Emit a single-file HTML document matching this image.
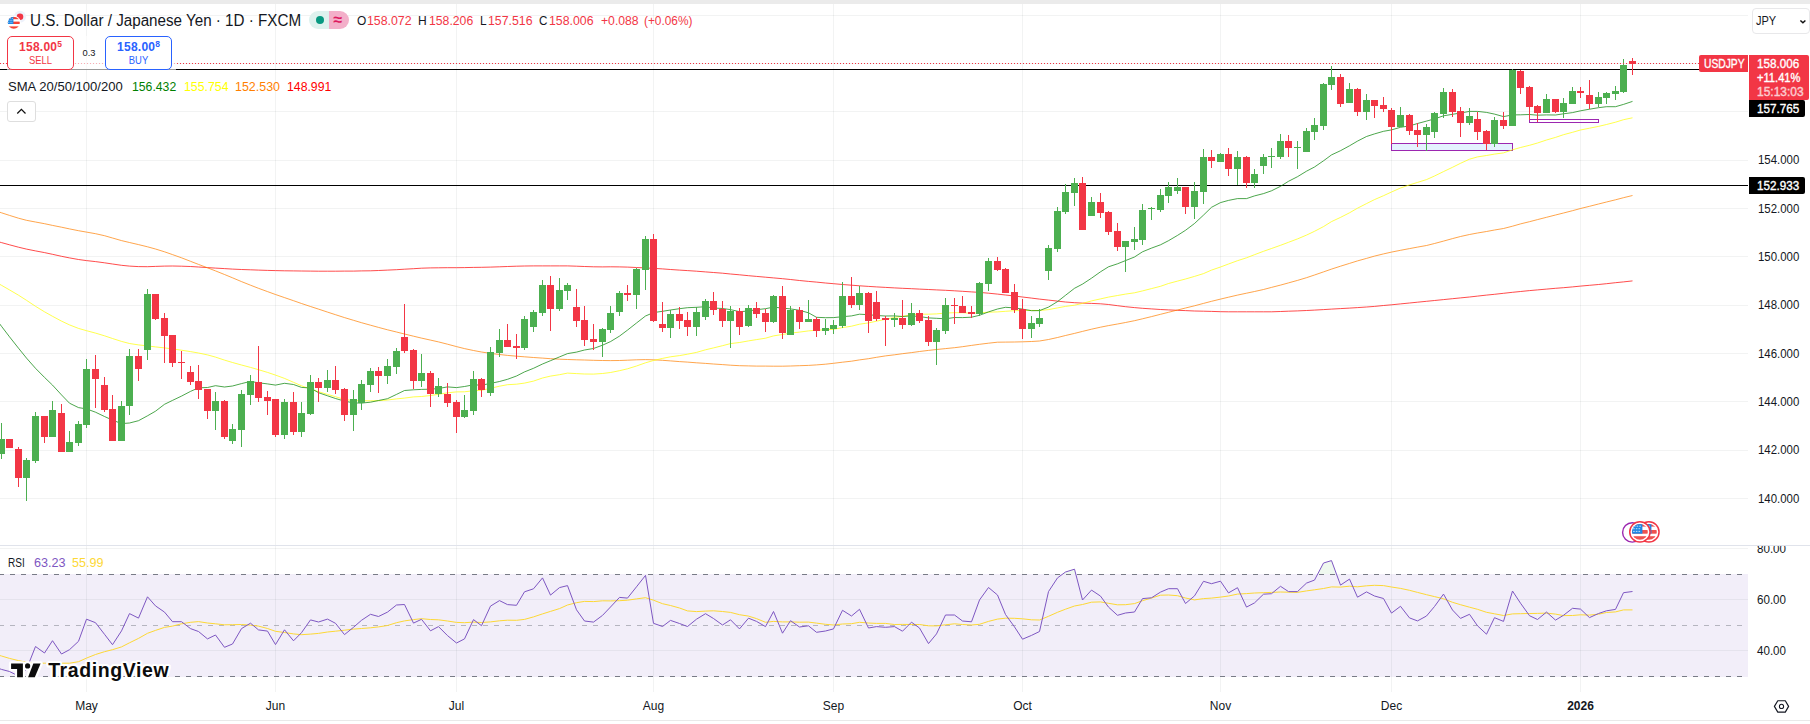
<!DOCTYPE html>
<html lang="en"><head><meta charset="utf-8"><title>USDJPY chart</title>
<style>
html,body{margin:0;padding:0;background:#fff;}
body{width:1810px;height:724px;position:relative;overflow:hidden;font-family:"Liberation Sans", sans-serif;}
#chart{position:absolute;left:0;top:0;}
.t{position:absolute;white-space:nowrap;line-height:1;transform:translateY(-50%);}
.abs{position:absolute;box-sizing:border-box;}
#topbar{left:0;top:0;width:1810px;height:4px;background:#ebebeb;}
#botline{left:0;top:720px;width:1810px;height:1px;background:#e9e9e9;}
#sep{left:0;top:545px;width:1810px;height:1px;background:#e0e3eb;}
#clip80{left:1748px;top:546px;width:62px;height:14px;overflow:hidden;}
.btn{border-radius:5px;background:#fff;text-align:center;}
#sell{left:7px;top:36px;width:67px;height:34px;border:1px solid #f23645;color:#f23645;}
#buy{left:105px;top:36px;width:67px;height:34px;border:1px solid #2962ff;color:#2962ff;}
#bsbg{left:7px;top:36px;width:169px;height:34px;background:rgba(255,255,255,.6);}
.btn .p{position:absolute;left:0;width:100%;top:2.6px;font-size:12px;font-weight:700;line-height:14px;letter-spacing:0.25px;}
.btn .p sup{font-size:8.5px;vertical-align:top;position:relative;top:-0.5px;line-height:10px;letter-spacing:0;}
.btn .n{position:absolute;left:0;width:100%;top:17.2px;font-size:10.5px;line-height:12px;transform:scaleX(0.9);}
#collapse{left:7px;top:101px;width:29px;height:21px;border:1px solid #dedede;border-radius:3px;background:#fff;}
#jpy{left:1752px;top:8px;width:58px;height:26px;border:1px solid #e8e8ea;border-radius:4px;background:#fff;}
.lab{color:#fff;font-size:12px;line-height:1;}
</style></head><body>
<svg id="chart" width="1810" height="724" viewBox="0 0 1810 724"><rect x="0" y="574" width="1748" height="103" fill="#7e57c2" fill-opacity="0.1"/><rect x="86" y="4" width="1" height="541" fill="#2a2e39" fill-opacity="0.06"/><rect x="86" y="546" width="1" height="146" fill="#2a2e39" fill-opacity="0.06"/><rect x="275" y="4" width="1" height="541" fill="#2a2e39" fill-opacity="0.06"/><rect x="275" y="546" width="1" height="146" fill="#2a2e39" fill-opacity="0.06"/><rect x="456" y="4" width="1" height="541" fill="#2a2e39" fill-opacity="0.06"/><rect x="456" y="546" width="1" height="146" fill="#2a2e39" fill-opacity="0.06"/><rect x="653" y="4" width="1" height="541" fill="#2a2e39" fill-opacity="0.06"/><rect x="653" y="546" width="1" height="146" fill="#2a2e39" fill-opacity="0.06"/><rect x="833" y="4" width="1" height="541" fill="#2a2e39" fill-opacity="0.06"/><rect x="833" y="546" width="1" height="146" fill="#2a2e39" fill-opacity="0.06"/><rect x="1022" y="4" width="1" height="541" fill="#2a2e39" fill-opacity="0.06"/><rect x="1022" y="546" width="1" height="146" fill="#2a2e39" fill-opacity="0.06"/><rect x="1220" y="4" width="1" height="541" fill="#2a2e39" fill-opacity="0.06"/><rect x="1220" y="546" width="1" height="146" fill="#2a2e39" fill-opacity="0.06"/><rect x="1391" y="4" width="1" height="541" fill="#2a2e39" fill-opacity="0.06"/><rect x="1391" y="546" width="1" height="146" fill="#2a2e39" fill-opacity="0.06"/><rect x="1580" y="4" width="1" height="541" fill="#2a2e39" fill-opacity="0.06"/><rect x="1580" y="546" width="1" height="146" fill="#2a2e39" fill-opacity="0.06"/><rect x="0" y="498" width="1748" height="1" fill="#2a2e39" fill-opacity="0.06"/><rect x="0" y="450" width="1748" height="1" fill="#2a2e39" fill-opacity="0.06"/><rect x="0" y="401" width="1748" height="1" fill="#2a2e39" fill-opacity="0.06"/><rect x="0" y="353" width="1748" height="1" fill="#2a2e39" fill-opacity="0.06"/><rect x="0" y="305" width="1748" height="1" fill="#2a2e39" fill-opacity="0.06"/><rect x="0" y="256" width="1748" height="1" fill="#2a2e39" fill-opacity="0.06"/><rect x="0" y="208" width="1748" height="1" fill="#2a2e39" fill-opacity="0.06"/><rect x="0" y="160" width="1748" height="1" fill="#2a2e39" fill-opacity="0.06"/><rect x="0" y="111" width="1748" height="1" fill="#2a2e39" fill-opacity="0.06"/><rect x="0" y="63" width="1748" height="1" fill="#2a2e39" fill-opacity="0.06"/><rect x="0" y="15" width="1748" height="1" fill="#2a2e39" fill-opacity="0.06"/><rect x="0" y="548" width="1748" height="1" fill="#2a2e39" fill-opacity="0.06"/><rect x="0" y="599" width="1748" height="1" fill="#2a2e39" fill-opacity="0.06"/><rect x="0" y="650" width="1748" height="1" fill="#2a2e39" fill-opacity="0.06"/><path d="M0 574.5H1748" stroke="#787b86" stroke-width="1" stroke-dasharray="5 6" stroke-dashoffset="1" fill="none"/><path d="M0 676.5H1748" stroke="#787b86" stroke-width="1" stroke-dasharray="5 6" stroke-dashoffset="1" fill="none"/><path d="M0 625.5H1748" stroke="#787b86" stroke-opacity="0.5" stroke-width="1" stroke-dasharray="5 6" stroke-dashoffset="1" fill="none"/><clipPath id="obc"><rect x="0" y="546" width="1748" height="28"/></clipPath><path d="M-4.0 667.4 L1.5 669.4 L9.5 671.5 L18.5 676.0 L26.5 669.3 L35.5 646.5 L44.5 653.0 L52.5 640.7 L61.5 654.0 L69.5 649.7 L78.5 641.3 L86.5 619.2 L95.5 622.7 L104.5 634.3 L112.5 644.7 L121.5 630.9 L129.5 613.6 L138.5 618.1 L147.5 596.8 L155.5 605.9 L164.5 612.1 L172.5 621.7 L181.5 621.7 L190.5 628.6 L198.5 631.5 L207.5 638.9 L215.5 635.0 L224.5 647.3 L232.5 644.0 L241.5 628.6 L250.5 623.2 L258.5 629.9 L267.5 631.1 L275.5 644.6 L284.5 629.8 L293.5 640.8 L301.5 632.7 L310.5 619.9 L318.5 622.0 L327.5 619.1 L335.5 623.3 L344.5 634.6 L353.5 627.3 L361.5 620.3 L370.5 614.3 L378.5 616.5 L387.5 612.1 L396.5 605.0 L404.5 604.5 L413.5 623.1 L421.5 619.3 L430.5 630.8 L438.5 626.6 L447.5 635.6 L456.5 643.0 L464.5 638.9 L473.5 619.6 L481.5 625.7 L490.5 606.1 L499.5 600.6 L507.5 604.6 L516.5 605.3 L524.5 591.8 L533.5 588.8 L542.5 577.9 L550.5 595.1 L559.5 587.6 L567.5 585.6 L576.5 609.8 L584.5 621.0 L593.5 622.1 L602.5 615.4 L610.5 607.0 L619.5 597.4 L627.5 598.1 L636.5 586.8 L645.5 575.4 L653.5 623.3 L662.5 626.5 L670.5 620.4 L679.5 623.5 L687.5 626.5 L696.5 619.2 L705.5 613.7 L713.5 618.5 L722.5 625.0 L730.5 619.8 L739.5 628.9 L748.5 618.2 L756.5 621.4 L765.5 626.6 L773.5 611.5 L782.5 633.2 L790.5 620.7 L799.5 627.0 L808.5 625.8 L816.5 632.3 L825.5 631.0 L833.5 628.9 L842.5 610.3 L851.5 616.0 L859.5 609.3 L868.5 628.0 L876.5 626.6 L885.5 627.3 L894.5 626.6 L902.5 631.2 L911.5 622.2 L919.5 628.0 L928.5 643.6 L936.5 633.9 L945.5 615.0 L954.5 615.0 L962.5 621.0 L971.5 621.8 L979.5 600.0 L988.5 587.5 L997.5 595.0 L1005.5 614.5 L1014.5 626.9 L1022.5 639.2 L1031.5 635.4 L1039.5 631.5 L1048.5 591.6 L1057.5 577.9 L1065.5 572.0 L1074.5 569.2 L1082.5 600.0 L1091.5 590.1 L1100.5 596.1 L1108.5 607.1 L1117.5 615.3 L1125.5 613.0 L1134.5 612.0 L1142.5 598.6 L1151.5 597.8 L1160.5 592.1 L1168.5 588.7 L1177.5 588.7 L1185.5 603.5 L1194.5 595.9 L1203.5 581.3 L1211.5 583.7 L1220.5 581.2 L1228.5 592.9 L1237.5 587.7 L1246.5 607.1 L1254.5 602.9 L1263.5 594.2 L1271.5 593.7 L1280.5 586.3 L1288.5 591.6 L1297.5 591.6 L1306.5 583.1 L1314.5 580.1 L1323.5 563.0 L1331.5 560.6 L1340.5 585.1 L1349.5 579.1 L1357.5 597.2 L1366.5 591.9 L1374.5 596.0 L1383.5 598.5 L1391.5 613.1 L1400.5 606.3 L1409.5 617.9 L1417.5 620.9 L1426.5 616.0 L1434.5 606.5 L1443.5 594.1 L1452.5 610.0 L1460.5 618.4 L1469.5 614.3 L1477.5 625.8 L1486.5 634.2 L1494.5 617.7 L1503.5 621.4 L1512.5 591.0 L1520.5 603.2 L1529.5 615.7 L1537.5 619.5 L1546.5 612.1 L1555.5 620.1 L1563.5 615.3 L1572.5 608.3 L1580.5 609.1 L1589.5 617.6 L1598.5 613.5 L1606.5 610.8 L1615.5 609.4 L1623.5 592.7 L1632.5 591.5 L1632.5 574 L-4 574Z" fill="#4caf50" fill-opacity="0.09" clip-path="url(#obc)"/><path d="M-4.0 654.5 L1.5 656.0 L9.5 658.4 L18.5 660.6 L26.5 662.3 L35.5 663.2 L44.5 663.2 L52.5 663.2 L61.5 663.2 L69.5 663.2 L78.5 661.7 L86.5 658.1 L95.5 654.5 L104.5 651.7 L112.5 649.7 L121.5 646.9 L129.5 642.8 L138.5 638.4 L147.5 633.3 L155.5 630.4 L164.5 627.4 L172.5 626.1 L181.5 623.8 L190.5 622.3 L198.5 621.6 L207.5 623.0 L215.5 623.8 L224.5 624.8 L232.5 624.7 L241.5 624.5 L250.5 625.2 L258.5 626.1 L267.5 628.5 L275.5 631.3 L284.5 632.5 L293.5 633.9 L301.5 634.7 L310.5 634.1 L318.5 633.4 L327.5 632.0 L335.5 631.2 L344.5 630.2 L353.5 629.1 L361.5 628.5 L370.5 627.8 L378.5 626.9 L387.5 625.5 L396.5 622.7 L404.5 620.9 L413.5 619.6 L421.5 618.7 L430.5 619.5 L438.5 619.8 L447.5 621.0 L456.5 622.4 L464.5 622.7 L473.5 622.1 L481.5 622.5 L490.5 621.9 L499.5 620.8 L507.5 620.2 L516.5 620.3 L524.5 619.4 L533.5 616.9 L542.5 613.9 L550.5 611.4 L559.5 608.6 L567.5 605.0 L576.5 602.7 L584.5 601.4 L593.5 601.6 L602.5 600.8 L610.5 600.9 L619.5 600.7 L627.5 600.2 L636.5 598.9 L645.5 597.7 L653.5 600.2 L662.5 603.7 L670.5 605.5 L679.5 608.0 L687.5 610.9 L696.5 611.6 L705.5 611.1 L713.5 610.8 L722.5 611.5 L730.5 612.4 L739.5 614.7 L748.5 616.1 L756.5 618.6 L765.5 622.3 L773.5 621.4 L782.5 621.9 L790.5 621.9 L799.5 622.2 L808.5 622.1 L816.5 623.1 L825.5 624.3 L833.5 625.0 L842.5 624.0 L851.5 623.7 L859.5 622.3 L868.5 623.0 L876.5 623.4 L885.5 623.4 L894.5 624.5 L902.5 624.4 L911.5 624.5 L919.5 624.5 L928.5 625.8 L936.5 625.9 L945.5 624.8 L954.5 623.8 L962.5 624.5 L971.5 625.0 L979.5 624.3 L988.5 621.4 L997.5 619.1 L1005.5 618.2 L1014.5 618.3 L1022.5 618.8 L1031.5 619.8 L1039.5 620.0 L1048.5 616.3 L1057.5 612.3 L1065.5 609.2 L1074.5 606.0 L1082.5 604.5 L1091.5 602.2 L1100.5 601.9 L1108.5 603.3 L1117.5 604.8 L1125.5 604.7 L1134.5 603.6 L1142.5 600.7 L1151.5 598.0 L1160.5 595.2 L1168.5 595.0 L1177.5 595.7 L1185.5 598.0 L1194.5 599.9 L1203.5 598.6 L1211.5 598.1 L1220.5 597.1 L1228.5 596.0 L1237.5 594.1 L1246.5 593.6 L1254.5 593.0 L1263.5 592.7 L1271.5 592.4 L1280.5 592.0 L1288.5 592.2 L1297.5 592.4 L1306.5 590.9 L1314.5 589.8 L1323.5 588.5 L1331.5 586.9 L1340.5 587.1 L1349.5 586.2 L1357.5 586.8 L1366.5 585.8 L1374.5 585.3 L1383.5 585.6 L1391.5 587.0 L1400.5 588.4 L1409.5 590.3 L1417.5 592.4 L1426.5 594.7 L1434.5 596.6 L1443.5 598.8 L1452.5 602.3 L1460.5 604.7 L1469.5 607.2 L1477.5 609.3 L1486.5 612.3 L1494.5 613.8 L1503.5 615.5 L1512.5 613.9 L1520.5 613.7 L1529.5 613.5 L1537.5 613.4 L1546.5 613.1 L1555.5 614.1 L1563.5 615.6 L1572.5 615.5 L1580.5 614.8 L1589.5 615.1 L1598.5 614.2 L1606.5 612.5 L1615.5 611.9 L1623.5 609.9 L1632.5 609.9" stroke="#fdd835" stroke-width="1" fill="none" stroke-linejoin="round"/><path d="M-4.0 667.4 L1.5 669.4 L9.5 671.5 L18.5 676.0 L26.5 669.3 L35.5 646.5 L44.5 653.0 L52.5 640.7 L61.5 654.0 L69.5 649.7 L78.5 641.3 L86.5 619.2 L95.5 622.7 L104.5 634.3 L112.5 644.7 L121.5 630.9 L129.5 613.6 L138.5 618.1 L147.5 596.8 L155.5 605.9 L164.5 612.1 L172.5 621.7 L181.5 621.7 L190.5 628.6 L198.5 631.5 L207.5 638.9 L215.5 635.0 L224.5 647.3 L232.5 644.0 L241.5 628.6 L250.5 623.2 L258.5 629.9 L267.5 631.1 L275.5 644.6 L284.5 629.8 L293.5 640.8 L301.5 632.7 L310.5 619.9 L318.5 622.0 L327.5 619.1 L335.5 623.3 L344.5 634.6 L353.5 627.3 L361.5 620.3 L370.5 614.3 L378.5 616.5 L387.5 612.1 L396.5 605.0 L404.5 604.5 L413.5 623.1 L421.5 619.3 L430.5 630.8 L438.5 626.6 L447.5 635.6 L456.5 643.0 L464.5 638.9 L473.5 619.6 L481.5 625.7 L490.5 606.1 L499.5 600.6 L507.5 604.6 L516.5 605.3 L524.5 591.8 L533.5 588.8 L542.5 577.9 L550.5 595.1 L559.5 587.6 L567.5 585.6 L576.5 609.8 L584.5 621.0 L593.5 622.1 L602.5 615.4 L610.5 607.0 L619.5 597.4 L627.5 598.1 L636.5 586.8 L645.5 575.4 L653.5 623.3 L662.5 626.5 L670.5 620.4 L679.5 623.5 L687.5 626.5 L696.5 619.2 L705.5 613.7 L713.5 618.5 L722.5 625.0 L730.5 619.8 L739.5 628.9 L748.5 618.2 L756.5 621.4 L765.5 626.6 L773.5 611.5 L782.5 633.2 L790.5 620.7 L799.5 627.0 L808.5 625.8 L816.5 632.3 L825.5 631.0 L833.5 628.9 L842.5 610.3 L851.5 616.0 L859.5 609.3 L868.5 628.0 L876.5 626.6 L885.5 627.3 L894.5 626.6 L902.5 631.2 L911.5 622.2 L919.5 628.0 L928.5 643.6 L936.5 633.9 L945.5 615.0 L954.5 615.0 L962.5 621.0 L971.5 621.8 L979.5 600.0 L988.5 587.5 L997.5 595.0 L1005.5 614.5 L1014.5 626.9 L1022.5 639.2 L1031.5 635.4 L1039.5 631.5 L1048.5 591.6 L1057.5 577.9 L1065.5 572.0 L1074.5 569.2 L1082.5 600.0 L1091.5 590.1 L1100.5 596.1 L1108.5 607.1 L1117.5 615.3 L1125.5 613.0 L1134.5 612.0 L1142.5 598.6 L1151.5 597.8 L1160.5 592.1 L1168.5 588.7 L1177.5 588.7 L1185.5 603.5 L1194.5 595.9 L1203.5 581.3 L1211.5 583.7 L1220.5 581.2 L1228.5 592.9 L1237.5 587.7 L1246.5 607.1 L1254.5 602.9 L1263.5 594.2 L1271.5 593.7 L1280.5 586.3 L1288.5 591.6 L1297.5 591.6 L1306.5 583.1 L1314.5 580.1 L1323.5 563.0 L1331.5 560.6 L1340.5 585.1 L1349.5 579.1 L1357.5 597.2 L1366.5 591.9 L1374.5 596.0 L1383.5 598.5 L1391.5 613.1 L1400.5 606.3 L1409.5 617.9 L1417.5 620.9 L1426.5 616.0 L1434.5 606.5 L1443.5 594.1 L1452.5 610.0 L1460.5 618.4 L1469.5 614.3 L1477.5 625.8 L1486.5 634.2 L1494.5 617.7 L1503.5 621.4 L1512.5 591.0 L1520.5 603.2 L1529.5 615.7 L1537.5 619.5 L1546.5 612.1 L1555.5 620.1 L1563.5 615.3 L1572.5 608.3 L1580.5 609.1 L1589.5 617.6 L1598.5 613.5 L1606.5 610.8 L1615.5 609.4 L1623.5 592.7 L1632.5 591.5" stroke="#7e57c2" stroke-width="1" fill="none" stroke-linejoin="round"/><rect x="1391.5" y="143.5" width="121" height="7" fill="#2196f3" fill-opacity="0.12" stroke="#9c27b0" stroke-width="1"/><rect x="1529.5" y="119.5" width="69" height="3" fill="none" stroke="#9c27b0" stroke-width="1"/><rect x="0" y="69" width="1748" height="1" fill="#000"/><rect x="0" y="185" width="1748" height="1" fill="#000"/><path d="M-4.0 241.1 L1.5 242.6 L9.5 244.8 L18.5 247.2 L26.5 249.1 L35.5 250.9 L44.5 252.6 L52.5 254.3 L61.5 256.3 L69.5 257.9 L78.5 259.5 L86.5 260.6 L95.5 261.6 L104.5 262.8 L112.5 264.0 L121.5 265.3 L129.5 266.1 L138.5 266.6 L147.5 266.7 L155.5 266.4 L164.5 266.1 L172.5 266.0 L181.5 266.2 L190.5 266.5 L198.5 267.0 L207.5 267.6 L215.5 268.1 L224.5 268.6 L232.5 269.1 L241.5 269.5 L250.5 269.8 L258.5 270.1 L267.5 270.4 L275.5 270.6 L284.5 270.8 L293.5 270.9 L301.5 271.0 L310.5 271.1 L318.5 271.2 L327.5 271.2 L335.5 271.2 L344.5 271.1 L353.5 271.1 L361.5 270.9 L370.5 270.8 L378.5 270.5 L387.5 270.1 L396.5 269.7 L404.5 269.2 L413.5 268.7 L421.5 268.2 L430.5 267.9 L438.5 267.8 L447.5 267.7 L456.5 267.7 L464.5 267.6 L473.5 267.4 L481.5 267.3 L490.5 267.1 L499.5 266.8 L507.5 266.5 L516.5 266.2 L524.5 266.0 L533.5 265.9 L542.5 265.9 L550.5 265.9 L559.5 265.9 L567.5 265.9 L576.5 266.2 L584.5 266.5 L593.5 266.8 L602.5 266.9 L610.5 266.8 L619.5 266.9 L627.5 267.1 L636.5 267.5 L645.5 267.9 L653.5 268.4 L662.5 268.9 L670.5 269.5 L679.5 270.1 L687.5 270.6 L696.5 271.2 L705.5 271.9 L713.5 272.5 L722.5 273.2 L730.5 274.0 L739.5 274.8 L748.5 275.7 L756.5 276.4 L765.5 277.2 L773.5 277.9 L782.5 278.7 L790.5 279.5 L799.5 280.5 L808.5 281.4 L816.5 282.1 L825.5 283.0 L833.5 283.7 L842.5 284.5 L851.5 285.2 L859.5 285.8 L868.5 286.4 L876.5 286.9 L885.5 287.4 L894.5 287.9 L902.5 288.3 L911.5 288.7 L919.5 289.1 L928.5 289.5 L936.5 289.9 L945.5 290.3 L954.5 290.8 L962.5 291.3 L971.5 291.9 L979.5 292.4 L988.5 293.2 L997.5 294.1 L1005.5 295.0 L1014.5 296.0 L1022.5 297.0 L1031.5 298.1 L1039.5 299.1 L1048.5 300.1 L1057.5 301.1 L1065.5 302.0 L1074.5 302.7 L1082.5 303.1 L1091.5 303.4 L1100.5 303.8 L1108.5 304.5 L1117.5 305.7 L1125.5 306.7 L1134.5 307.6 L1142.5 308.3 L1151.5 308.9 L1160.5 309.5 L1168.5 309.9 L1177.5 310.3 L1185.5 310.6 L1194.5 311.0 L1203.5 311.2 L1211.5 311.4 L1220.5 311.7 L1228.5 311.8 L1237.5 311.8 L1246.5 311.8 L1254.5 311.8 L1263.5 311.8 L1271.5 311.8 L1280.5 311.5 L1288.5 311.2 L1297.5 310.9 L1306.5 310.5 L1314.5 310.1 L1323.5 309.6 L1331.5 309.1 L1340.5 308.6 L1349.5 308.1 L1357.5 307.6 L1366.5 307.0 L1374.5 306.4 L1383.5 305.5 L1391.5 304.8 L1400.5 303.9 L1409.5 303.0 L1417.5 302.2 L1426.5 301.3 L1434.5 300.5 L1443.5 299.6 L1452.5 298.7 L1460.5 297.9 L1469.5 297.0 L1477.5 296.1 L1486.5 295.1 L1494.5 294.3 L1503.5 293.3 L1512.5 292.3 L1520.5 291.5 L1529.5 290.6 L1537.5 289.9 L1546.5 289.1 L1555.5 288.3 L1563.5 287.7 L1572.5 286.9 L1580.5 286.1 L1589.5 285.3 L1598.5 284.5 L1606.5 283.7 L1615.5 282.7 L1623.5 281.9 L1632.5 280.9" stroke="#ff0000" stroke-opacity="0.7" stroke-width="1" fill="none" stroke-linejoin="round"/><path d="M-4.0 211.0 L1.5 212.8 L9.5 215.4 L18.5 218.2 L26.5 220.3 L35.5 222.0 L44.5 223.7 L52.5 225.4 L61.5 227.2 L69.5 228.9 L78.5 230.7 L86.5 232.1 L95.5 233.7 L104.5 235.7 L112.5 238.0 L121.5 240.6 L129.5 242.5 L138.5 244.6 L147.5 246.8 L155.5 249.0 L164.5 251.8 L172.5 254.6 L181.5 257.8 L190.5 261.3 L198.5 264.4 L207.5 267.8 L215.5 270.9 L224.5 274.5 L232.5 277.8 L241.5 281.6 L250.5 285.2 L258.5 288.3 L267.5 291.6 L275.5 294.5 L284.5 297.6 L293.5 300.7 L301.5 303.5 L310.5 306.5 L318.5 309.1 L327.5 312.1 L335.5 314.7 L344.5 317.6 L353.5 320.3 L361.5 322.7 L370.5 325.2 L378.5 327.4 L387.5 329.8 L396.5 332.0 L404.5 334.0 L413.5 336.2 L421.5 338.1 L430.5 340.1 L438.5 341.9 L447.5 344.2 L456.5 346.6 L464.5 348.6 L473.5 350.5 L481.5 352.0 L490.5 353.4 L499.5 354.5 L507.5 355.4 L516.5 356.2 L524.5 356.8 L533.5 357.5 L542.5 358.1 L550.5 358.7 L559.5 359.2 L567.5 359.5 L576.5 359.8 L584.5 360.0 L593.5 360.3 L602.5 360.5 L610.5 360.6 L619.5 360.5 L627.5 360.2 L636.5 359.8 L645.5 359.6 L653.5 359.8 L662.5 360.3 L670.5 360.9 L679.5 361.6 L687.5 362.1 L696.5 362.8 L705.5 363.4 L713.5 364.0 L722.5 364.6 L730.5 365.2 L739.5 365.7 L748.5 365.9 L756.5 366.1 L765.5 366.1 L773.5 366.2 L782.5 366.2 L790.5 366.0 L799.5 365.7 L808.5 365.4 L816.5 364.9 L825.5 364.2 L833.5 363.3 L842.5 362.2 L851.5 361.2 L859.5 359.9 L868.5 358.7 L876.5 357.3 L885.5 355.9 L894.5 354.8 L902.5 353.7 L911.5 352.6 L919.5 351.5 L928.5 350.4 L936.5 349.5 L945.5 348.6 L954.5 347.7 L962.5 346.7 L971.5 345.4 L979.5 344.3 L988.5 343.2 L997.5 342.2 L1005.5 342.1 L1014.5 342.0 L1022.5 341.8 L1031.5 341.5 L1039.5 341.0 L1048.5 339.5 L1057.5 337.5 L1065.5 335.5 L1074.5 333.4 L1082.5 331.4 L1091.5 329.2 L1100.5 327.2 L1108.5 325.6 L1117.5 324.0 L1125.5 322.5 L1134.5 320.7 L1142.5 318.8 L1151.5 316.6 L1160.5 314.3 L1168.5 312.3 L1177.5 310.0 L1185.5 308.0 L1194.5 305.8 L1203.5 303.4 L1211.5 301.3 L1220.5 299.1 L1228.5 297.2 L1237.5 295.1 L1246.5 293.2 L1254.5 291.5 L1263.5 289.5 L1271.5 287.4 L1280.5 285.1 L1288.5 282.9 L1297.5 280.4 L1306.5 277.7 L1314.5 275.0 L1323.5 271.9 L1331.5 269.1 L1340.5 266.2 L1349.5 263.4 L1357.5 260.9 L1366.5 258.4 L1374.5 256.1 L1383.5 253.9 L1391.5 252.1 L1400.5 250.3 L1409.5 248.6 L1417.5 247.1 L1426.5 245.5 L1434.5 243.5 L1443.5 241.1 L1452.5 238.6 L1460.5 236.5 L1469.5 234.5 L1477.5 233.0 L1486.5 231.5 L1494.5 230.0 L1503.5 228.5 L1512.5 226.2 L1520.5 223.9 L1529.5 221.7 L1537.5 219.6 L1546.5 217.3 L1555.5 215.0 L1563.5 213.0 L1572.5 210.7 L1580.5 208.5 L1589.5 206.3 L1598.5 204.0 L1606.5 202.0 L1615.5 199.8 L1623.5 197.7 L1632.5 195.5" stroke="#ff7f00" stroke-opacity="0.7" stroke-width="1" fill="none" stroke-linejoin="round"/><path d="M-4.0 282.2 L1.5 285.3 L9.5 289.9 L18.5 295.2 L26.5 300.3 L35.5 306.3 L44.5 311.8 L52.5 316.3 L61.5 321.1 L69.5 324.9 L78.5 328.4 L86.5 330.7 L95.5 333.1 L104.5 335.8 L112.5 338.5 L121.5 341.4 L129.5 343.5 L138.5 344.9 L147.5 345.9 L155.5 346.9 L164.5 347.9 L172.5 348.9 L181.5 350.2 L190.5 351.6 L198.5 353.0 L207.5 354.9 L215.5 357.1 L224.5 360.1 L232.5 362.5 L241.5 365.0 L250.5 367.4 L258.5 369.7 L267.5 372.4 L275.5 375.1 L284.5 378.4 L293.5 382.3 L301.5 385.8 L310.5 389.1 L318.5 391.7 L327.5 394.4 L335.5 396.7 L344.5 399.5 L353.5 400.6 L361.5 400.7 L370.5 400.8 L378.5 400.7 L387.5 400.0 L396.5 398.9 L404.5 398.1 L413.5 396.9 L421.5 396.5 L430.5 395.5 L438.5 394.3 L447.5 392.8 L456.5 391.9 L464.5 391.8 L473.5 390.7 L481.5 390.3 L490.5 388.3 L499.5 386.2 L507.5 384.7 L516.5 384.2 L524.5 383.1 L533.5 381.1 L542.5 378.0 L550.5 376.1 L559.5 374.7 L567.5 373.1 L576.5 373.6 L584.5 374.0 L593.5 374.1 L602.5 373.5 L610.5 372.5 L619.5 370.7 L627.5 368.8 L636.5 366.0 L645.5 362.8 L653.5 360.5 L662.5 358.4 L670.5 356.8 L679.5 355.6 L687.5 354.2 L696.5 352.4 L705.5 349.8 L713.5 347.9 L722.5 345.7 L730.5 343.6 L739.5 342.5 L748.5 340.9 L756.5 339.6 L765.5 338.2 L773.5 335.9 L782.5 334.5 L790.5 333.1 L799.5 332.1 L808.5 330.9 L816.5 330.2 L825.5 329.8 L833.5 329.3 L842.5 327.6 L851.5 326.2 L859.5 324.2 L868.5 322.9 L876.5 321.2 L885.5 319.3 L894.5 317.4 L902.5 316.3 L911.5 314.8 L919.5 314.2 L928.5 314.2 L936.5 313.9 L945.5 313.0 L954.5 312.7 L962.5 312.7 L971.5 313.3 L979.5 312.8 L988.5 312.2 L997.5 311.9 L1005.5 311.3 L1014.5 310.7 L1022.5 310.5 L1031.5 310.4 L1039.5 310.5 L1048.5 309.6 L1057.5 307.9 L1065.5 306.4 L1074.5 305.2 L1082.5 303.4 L1091.5 300.9 L1100.5 298.9 L1108.5 297.1 L1117.5 295.5 L1125.5 294.1 L1134.5 292.8 L1142.5 290.9 L1151.5 288.6 L1160.5 286.3 L1168.5 283.5 L1177.5 281.1 L1185.5 279.0 L1194.5 276.4 L1203.5 273.6 L1211.5 270.1 L1220.5 267.0 L1228.5 264.0 L1237.5 260.7 L1246.5 257.8 L1254.5 254.7 L1263.5 251.3 L1271.5 248.5 L1280.5 245.3 L1288.5 242.3 L1297.5 238.9 L1306.5 235.1 L1314.5 231.3 L1323.5 226.6 L1331.5 221.6 L1340.5 217.4 L1349.5 212.8 L1357.5 208.2 L1366.5 203.6 L1374.5 199.6 L1383.5 195.7 L1391.5 192.0 L1400.5 188.0 L1409.5 184.9 L1417.5 182.4 L1426.5 179.6 L1434.5 176.0 L1443.5 171.6 L1452.5 167.3 L1460.5 163.3 L1469.5 159.2 L1477.5 156.9 L1486.5 155.5 L1494.5 154.1 L1503.5 152.9 L1512.5 149.8 L1520.5 147.5 L1529.5 145.3 L1537.5 143.0 L1546.5 140.0 L1555.5 137.4 L1563.5 134.7 L1572.5 132.3 L1580.5 130.0 L1589.5 128.2 L1598.5 126.4 L1606.5 124.5 L1615.5 122.2 L1623.5 119.7 L1632.5 117.8" stroke="#ffff00" stroke-opacity="0.7" stroke-width="1" fill="none" stroke-linejoin="round"/><path d="M-4.0 319.1 L1.5 326.3 L9.5 336.8 L18.5 348.2 L26.5 358.1 L35.5 368.3 L44.5 377.4 L52.5 385.1 L61.5 394.9 L69.5 403.2 L78.5 407.6 L86.5 408.9 L95.5 412.2 L104.5 416.5 L112.5 420.1 L121.5 423.6 L129.5 423.0 L138.5 420.7 L147.5 415.8 L155.5 411.2 L164.5 404.3 L172.5 400.4 L181.5 396.1 L190.5 391.4 L198.5 387.8 L207.5 387.5 L215.5 385.7 L224.5 387.0 L232.5 386.0 L241.5 383.6 L250.5 381.4 L258.5 382.8 L267.5 383.9 L275.5 385.1 L284.5 383.3 L293.5 384.5 L301.5 387.4 L310.5 388.0 L318.5 392.7 L327.5 395.8 L335.5 398.5 L344.5 401.1 L353.5 402.9 L361.5 403.1 L370.5 402.2 L378.5 400.5 L387.5 398.7 L396.5 394.4 L404.5 390.5 L413.5 389.8 L421.5 389.4 L430.5 389.2 L438.5 388.5 L447.5 386.9 L456.5 387.6 L464.5 386.5 L473.5 384.8 L481.5 385.2 L490.5 383.4 L499.5 381.5 L507.5 379.3 L516.5 376.0 L524.5 371.9 L533.5 368.3 L542.5 364.0 L550.5 360.7 L559.5 356.9 L567.5 353.6 L576.5 352.1 L584.5 350.0 L593.5 348.5 L602.5 345.2 L610.5 341.6 L619.5 336.1 L627.5 330.1 L636.5 323.0 L645.5 316.0 L653.5 312.6 L662.5 311.3 L670.5 310.0 L679.5 308.7 L687.5 307.7 L696.5 307.3 L705.5 306.7 L713.5 308.0 L722.5 308.5 L730.5 309.6 L739.5 311.7 L748.5 311.0 L756.5 309.7 L765.5 308.7 L773.5 307.1 L782.5 308.1 L790.5 308.9 L799.5 310.3 L808.5 312.8 L816.5 317.3 L825.5 317.7 L833.5 317.6 L842.5 316.7 L851.5 315.9 L859.5 314.2 L868.5 314.7 L876.5 315.5 L885.5 316.0 L894.5 315.9 L902.5 316.5 L911.5 315.9 L919.5 316.5 L928.5 317.9 L936.5 318.3 L945.5 318.8 L954.5 317.5 L962.5 317.6 L971.5 317.2 L979.5 315.3 L988.5 311.9 L997.5 309.0 L1005.5 307.3 L1014.5 307.9 L1022.5 309.1 L1031.5 310.7 L1039.5 310.6 L1048.5 307.1 L1057.5 301.6 L1065.5 295.3 L1074.5 288.3 L1082.5 284.1 L1091.5 278.2 L1100.5 271.8 L1108.5 266.8 L1117.5 263.8 L1125.5 260.6 L1134.5 257.0 L1142.5 251.8 L1151.5 248.1 L1160.5 244.8 L1168.5 240.7 L1177.5 235.4 L1185.5 230.3 L1194.5 223.5 L1203.5 215.1 L1211.5 207.3 L1220.5 202.6 L1228.5 200.4 L1237.5 198.6 L1246.5 198.6 L1254.5 195.9 L1263.5 193.6 L1271.5 190.8 L1280.5 186.3 L1288.5 181.3 L1297.5 176.7 L1306.5 171.2 L1314.5 167.0 L1323.5 160.8 L1331.5 154.9 L1340.5 150.7 L1349.5 145.8 L1357.5 141.1 L1366.5 136.5 L1374.5 133.9 L1383.5 131.3 L1391.5 129.9 L1400.5 127.3 L1409.5 125.9 L1417.5 123.5 L1426.5 121.1 L1434.5 118.9 L1443.5 115.8 L1452.5 114.3 L1460.5 113.0 L1469.5 111.4 L1477.5 111.4 L1486.5 112.4 L1494.5 114.1 L1503.5 116.6 L1512.5 114.9 L1520.5 114.8 L1529.5 114.5 L1537.5 115.2 L1546.5 114.9 L1555.5 115.0 L1563.5 113.8 L1572.5 112.6 L1580.5 110.8 L1589.5 109.2 L1598.5 107.7 L1606.5 106.7 L1615.5 106.7 L1623.5 104.4 L1632.5 101.4" stroke="#008000" stroke-opacity="0.7" stroke-width="1" fill="none" stroke-linejoin="round"/><path d="M1 423h1v36h-1zM-2 439h7v15h-7zM26 458h1v43h-1zM23 460h7v18h-7zM35 412h1v51h-1zM32 416h7v45h-7zM52 401h1v36h-1zM49 410h7v27h-7zM69 431h1v21h-1zM66 442h7v10h-7zM78 421h1v25h-1zM75 424h7v19h-7zM86 359h1v69h-1zM83 369h7v56h-7zM121 401h1v40h-1zM118 406h7v35h-7zM129 349h1v66h-1zM126 356h7v50h-7zM147 289h1v71h-1zM144 294h7v56h-7zM215 392h1v38h-1zM212 401h7v10h-7zM232 424h1v20h-1zM229 429h7v12h-7zM241 390h1v57h-1zM238 394h7v36h-7zM250 375h1v30h-1zM247 381h7v14h-7zM284 399h1v40h-1zM281 402h7v33h-7zM301 402h1v35h-1zM298 413h7v19h-7zM310 375h1v40h-1zM307 382h7v32h-7zM327 370h1v22h-1zM324 380h7v8h-7zM353 390h1v41h-1zM350 399h7v16h-7zM361 380h1v30h-1zM358 384h7v19h-7zM370 368h1v24h-1zM367 371h7v14h-7zM387 359h1v25h-1zM384 366h7v10h-7zM396 348h1v26h-1zM393 351h7v16h-7zM421 354h1v33h-1zM418 373h7v8h-7zM438 378h1v19h-1zM435 386h7v8h-7zM464 395h1v23h-1zM461 410h7v7h-7zM473 371h1v44h-1zM470 379h7v32h-7zM490 347h1v49h-1zM487 352h7v41h-7zM499 329h1v28h-1zM496 340h7v13h-7zM524 316h1v34h-1zM521 319h7v29h-7zM533 310h1v22h-1zM530 312h7v15h-7zM542 280h1v36h-1zM539 285h7v28h-7zM559 278h1v33h-1zM556 290h7v19h-7zM567 283h1v17h-1zM564 285h7v6h-7zM602 328h1v29h-1zM599 329h7v13h-7zM610 306h1v27h-1zM607 313h7v17h-7zM619 291h1v25h-1zM616 293h7v19h-7zM636 268h1v41h-1zM633 269h7v26h-7zM645 236h1v54h-1zM642 239h7v31h-7zM670 310h1v28h-1zM667 314h7v14h-7zM696 307h1v29h-1zM693 312h7v15h-7zM705 299h1v21h-1zM702 301h7v16h-7zM730 306h1v42h-1zM727 311h7v10h-7zM748 305h1v22h-1zM745 308h7v18h-7zM773 295h1v28h-1zM770 296h7v26h-7zM790 306h1v29h-1zM787 310h7v25h-7zM808 300h1v22h-1zM805 319h7v3h-7zM825 319h1v16h-1zM822 328h7v3h-7zM833 320h1v14h-1zM830 325h7v4h-7zM842 282h1v46h-1zM839 296h7v30h-7zM859 286h1v24h-1zM856 293h7v12h-7zM894 313h1v14h-1zM891 318h7v2h-7zM911 303h1v23h-1zM908 313h7v12h-7zM936 328h1v37h-1zM933 330h7v12h-7zM945 298h1v36h-1zM942 305h7v26h-7zM979 282h1v34h-1zM976 283h7v31h-7zM988 258h1v33h-1zM985 261h7v23h-7zM1031 316h1v22h-1zM1028 323h7v6h-7zM1039 309h1v18h-1zM1036 318h7v6h-7zM1048 245h1v35h-1zM1045 248h7v23h-7zM1057 207h1v45h-1zM1054 211h7v38h-7zM1065 184h1v30h-1zM1062 192h7v20h-7zM1074 178h1v28h-1zM1071 183h7v10h-7zM1091 197h1v19h-1zM1088 202h7v14h-7zM1125 241h1v31h-1zM1122 241h7v6h-7zM1134 227h1v23h-1zM1131 239h7v3h-7zM1142 204h1v41h-1zM1139 210h7v30h-7zM1151 207h1v13h-1zM1148 208h7v1h-7zM1160 189h1v23h-1zM1157 195h7v15h-7zM1168 182h1v21h-1zM1165 187h7v9h-7zM1177 178h1v16h-1zM1174 187h7v4h-7zM1194 182h1v37h-1zM1191 191h7v16h-7zM1203 149h1v55h-1zM1200 157h7v35h-7zM1220 153h1v9h-1zM1217 154h7v8h-7zM1237 151h1v34h-1zM1234 157h7v12h-7zM1254 169h1v19h-1zM1251 174h7v9h-7zM1263 154h1v20h-1zM1260 157h7v9h-7zM1271 148h1v20h-1zM1268 156h7v1h-7zM1280 134h1v25h-1zM1277 141h7v16h-7zM1297 141h1v28h-1zM1294 147h7v1h-7zM1306 128h1v24h-1zM1303 131h7v21h-7zM1314 118h1v22h-1zM1311 125h7v7h-7zM1323 83h1v47h-1zM1320 84h7v42h-7zM1331 66h1v24h-1zM1328 77h7v8h-7zM1349 83h1v20h-1zM1346 89h7v14h-7zM1366 94h1v26h-1zM1363 100h7v12h-7zM1400 107h1v20h-1zM1397 115h7v12h-7zM1426 124h1v27h-1zM1423 127h7v8h-7zM1434 112h1v26h-1zM1431 113h7v19h-7zM1443 88h1v30h-1zM1440 92h7v22h-7zM1469 108h1v17h-1zM1466 116h7v7h-7zM1494 117h1v30h-1zM1491 120h7v24h-7zM1512 69h1v57h-1zM1509 70h7v56h-7zM1546 94h1v19h-1zM1543 99h7v14h-7zM1563 98h1v20h-1zM1560 103h7v9h-7zM1572 87h1v17h-1zM1569 91h7v13h-7zM1598 92h1v15h-1zM1595 97h7v7h-7zM1606 92h1v12h-1zM1603 93h7v5h-7zM1615 86h1v14h-1zM1612 91h7v3h-7zM1623 59h1v34h-1zM1620 65h7v27h-7z" fill="#4caf50" shape-rendering="crispEdges"/><path d="M9 439h1v9h-1zM6 439h7v9h-7zM18 447h1v40h-1zM15 449h7v29h-7zM44 416h1v27h-1zM41 416h7v21h-7zM61 404h1v48h-1zM58 413h7v39h-7zM95 355h1v53h-1zM92 369h7v10h-7zM104 377h1v35h-1zM101 385h7v25h-7zM112 395h1v46h-1zM109 409h7v32h-7zM138 349h1v32h-1zM135 356h7v13h-7zM155 294h1v26h-1zM152 294h7v25h-7zM164 313h1v50h-1zM161 318h7v18h-7zM172 335h1v32h-1zM169 335h7v28h-7zM181 351h1v28h-1zM178 362h7v1h-7zM190 366h1v19h-1zM187 372h7v10h-7zM198 365h1v34h-1zM195 381h7v9h-7zM207 389h1v30h-1zM204 389h7v22h-7zM224 400h1v39h-1zM221 401h7v36h-7zM258 346h1v56h-1zM255 382h7v16h-7zM267 391h1v24h-1zM264 397h7v4h-7zM275 399h1v38h-1zM272 399h7v36h-7zM293 392h1v43h-1zM290 402h7v30h-7zM318 378h1v24h-1zM315 382h7v6h-7zM335 366h1v28h-1zM332 380h7v10h-7zM344 388h1v33h-1zM341 389h7v26h-7zM378 367h1v26h-1zM375 371h7v5h-7zM404 304h1v49h-1zM401 337h7v14h-7zM413 349h1v40h-1zM410 350h7v31h-7zM430 371h1v36h-1zM427 373h7v21h-7zM447 383h1v24h-1zM444 394h7v9h-7zM456 400h1v33h-1zM453 402h7v15h-7zM481 378h1v19h-1zM478 379h7v11h-7zM507 324h1v23h-1zM504 340h7v7h-7zM516 334h1v25h-1zM513 346h7v2h-7zM550 276h1v55h-1zM547 285h7v24h-7zM576 289h1v38h-1zM573 307h7v14h-7zM584 306h1v40h-1zM581 320h7v20h-7zM593 324h1v26h-1zM590 339h7v3h-7zM627 285h1v16h-1zM624 293h7v2h-7zM653 234h1v88h-1zM650 239h7v82h-7zM662 302h1v30h-1zM659 324h7v4h-7zM679 307h1v22h-1zM676 314h7v7h-7zM687 312h1v24h-1zM684 320h7v7h-7zM713 292h1v23h-1zM710 301h7v9h-7zM722 301h1v26h-1zM719 309h7v12h-7zM739 308h1v27h-1zM736 311h7v16h-7zM756 302h1v16h-1zM753 308h7v6h-7zM765 309h1v23h-1zM762 313h7v9h-7zM782 286h1v53h-1zM779 296h7v37h-7zM799 307h1v22h-1zM796 310h7v12h-7zM816 317h1v20h-1zM813 319h7v12h-7zM851 277h1v31h-1zM848 296h7v9h-7zM868 292h1v41h-1zM865 293h7v28h-7zM876 291h1v30h-1zM873 302h7v17h-7zM885 316h1v30h-1zM882 318h7v2h-7zM902 300h1v29h-1zM899 318h7v7h-7zM919 310h1v13h-1zM916 313h7v8h-7zM928 316h1v30h-1zM925 320h7v22h-7zM954 298h1v26h-1zM951 305h7v1h-7zM962 296h1v17h-1zM959 306h7v7h-7zM971 306h1v12h-1zM968 312h7v2h-7zM997 257h1v14h-1zM994 261h7v9h-7zM1005 268h1v25h-1zM1002 269h7v24h-7zM1014 284h1v29h-1zM1011 292h7v18h-7zM1022 299h1v40h-1zM1019 309h7v20h-7zM1082 177h1v53h-1zM1079 183h7v47h-7zM1100 193h1v25h-1zM1097 202h7v11h-7zM1108 211h1v24h-1zM1105 212h7v20h-7zM1117 223h1v28h-1zM1114 231h7v16h-7zM1185 187h1v27h-1zM1182 187h7v20h-7zM1211 150h1v18h-1zM1208 157h7v4h-7zM1228 148h1v28h-1zM1225 154h7v15h-7zM1246 156h1v32h-1zM1243 157h7v26h-7zM1288 135h1v22h-1zM1285 141h7v7h-7zM1340 74h1v33h-1zM1337 77h7v27h-7zM1357 88h1v28h-1zM1354 89h7v23h-7zM1374 100h1v18h-1zM1371 100h7v6h-7zM1383 97h1v15h-1zM1380 105h7v4h-7zM1391 108h1v36h-1zM1388 110h7v17h-7zM1409 114h1v21h-1zM1406 115h7v16h-7zM1417 123h1v24h-1zM1414 130h7v5h-7zM1452 89h1v28h-1zM1449 92h7v20h-7zM1460 107h1v30h-1zM1457 111h7v12h-7zM1477 112h1v28h-1zM1474 119h7v13h-7zM1486 130h1v20h-1zM1483 131h7v13h-7zM1503 112h1v17h-1zM1500 120h7v6h-7zM1520 70h1v24h-1zM1517 71h7v17h-7zM1529 86h1v34h-1zM1526 87h7v20h-7zM1537 105h1v17h-1zM1534 106h7v7h-7zM1555 99h1v14h-1zM1552 99h7v13h-7zM1580 87h1v11h-1zM1577 91h7v2h-7zM1589 80h1v29h-1zM1586 95h7v9h-7zM1632 58h1v17h-1zM1629 61h7v3h-7z" fill="#f23645" shape-rendering="crispEdges"/><path d="M0 63.5H1748" stroke="#f23645" stroke-width="1" stroke-dasharray="1 2" fill="none" shape-rendering="crispEdges"/></svg>
<div class="abs" id="topbar"></div>
<div class="abs" id="sep"></div>
<div class="abs" id="botline"></div>
<!-- legend -->
<svg class="abs" style="left:6px;top:9px" width="22" height="22" viewBox="0 0 22 22">
 <circle cx="14" cy="7.7" r="6" fill="#eef2fb"/><circle cx="14" cy="7.7" r="3.3" fill="#f23645"/>
 <circle cx="7.8" cy="13.8" r="7" fill="#fff"/>
 <clipPath id="usc"><circle cx="7.8" cy="13.8" r="6"/></clipPath>
 <g clip-path="url(#usc)"><rect x="0" y="7" width="16" height="14" fill="#fff"/>
 <rect x="0" y="7.8" width="16" height="2.4" fill="#f44336"/><rect x="0" y="12.6" width="16" height="2.4" fill="#f44336"/><rect x="0" y="17.4" width="16" height="2.6" fill="#f44336"/>
 <rect x="0" y="7" width="7.4" height="8" fill="#1e88e5"/><g fill="#fff"><circle cx="3" cy="9.4" r=".45"/><circle cx="4.8" cy="9.4" r=".45"/><circle cx="6.5" cy="9.4" r=".45"/><circle cx="2.3" cy="11.3" r=".45"/><circle cx="4.1" cy="11.3" r=".45"/><circle cx="5.9" cy="11.3" r=".45"/><circle cx="2.3" cy="13.2" r=".45"/><circle cx="4.1" cy="13.2" r=".45"/><circle cx="5.9" cy="13.2" r=".45"/></g></g>
</svg>
<div class="abs" style="left:309px;top:11px;width:20px;height:18px;background:#def2ee;border-radius:9px 0 0 9px"></div>
<div class="abs" style="left:329px;top:11px;width:20px;height:18px;background:#f3afc9;border-radius:0 9px 9px 0"></div>
<div class="abs" style="left:315.9px;top:15.9px;width:8px;height:8px;border-radius:50%;background:#089981"></div>
<span class="t" id="approx" style="left:338px;top:19.6px;font-size:16px;font-weight:700;color:#dd1a60;transform:translate(-50%,-50%)">≈</span>
<div class="abs" id="bsbg"></div>
<div class="abs btn" id="sell"><div class="p">158.00<sup>5</sup></div><div class="n">SELL</div></div>
<div class="abs btn" id="buy"><div class="p">158.00<sup>8</sup></div><div class="n">BUY</div></div>
<span class="t" id="spread" style="left:82.6px;top:53.7px;font-size:9.3px;color:#131722">0.3</span>
<div class="abs" id="collapse"><svg width="27" height="19" viewBox="0 0 27 19" style="display:block"><path d="M9.3 11.5l4.1-4.1 4.1 4.1" stroke="#111" stroke-width="1.3" fill="none"/></svg></div>
<div class="abs" id="jpy"><svg width="56" height="24" viewBox="0 0 56 24" style="position:absolute;left:0;top:0"><path d="M47.4 11.4l2.5 2.4 2.5-2.4" stroke="#111" stroke-width="1.45" fill="none"/></svg></div>
<!-- axis labels -->
<div class="abs" style="left:1699px;top:55px;width:49px;height:17px;background:#f23645;border-radius:2px 0 0 2px"></div>
<div class="abs" style="left:1749px;top:55px;width:60px;height:45px;background:#f23645;border-radius:0 2px 2px 0"></div>
<div class="abs" style="left:1749px;top:100px;width:56px;height:17px;background:#000;border-radius:0 2px 2px 0"></div>
<div class="abs" style="left:1749px;top:177px;width:56px;height:17px;background:#000;border-radius:0 2px 2px 0"></div>
<span class="t" id="title" style="font-size:16px;color:#131722;font-weight:400;top:20.5px;left:30.4px;transform-origin:0 50%;transform:translateY(-50%) scaleX(0.9497);">U.S. Dollar / Japanese Yen · 1D · FXCM</span><span class="t" id="o" style="font-size:13px;color:#131722;font-weight:400;top:19.7px;left:356.8px;transform-origin:0 50%;transform:translateY(-50%) scaleX(0.9185);">O</span><span class="t" id="ov" style="font-size:13px;color:#f23645;font-weight:400;top:19.7px;left:367.4px;transform-origin:0 50%;transform:translateY(-50%) scaleX(0.9489);">158.072</span><span class="t" id="h" style="font-size:13px;color:#131722;font-weight:400;top:19.7px;left:418.2px;transform-origin:0 50%;transform:translateY(-50%) scaleX(0.9265);">H</span><span class="t" id="hv" style="font-size:13px;color:#f23645;font-weight:400;top:19.7px;left:429.3px;transform-origin:0 50%;transform:translateY(-50%) scaleX(0.9404);">158.206</span><span class="t" id="l" style="font-size:13px;color:#131722;font-weight:400;top:19.7px;left:480px;transform-origin:0 50%;transform:translateY(-50%) scaleX(0.9123);">L</span><span class="t" id="lv" style="font-size:13px;color:#f23645;font-weight:400;top:19.7px;left:488.3px;transform-origin:0 50%;transform:translateY(-50%) scaleX(0.9468);">157.516</span><span class="t" id="c" style="font-size:13px;color:#131722;font-weight:400;top:19.7px;left:539.2px;transform-origin:0 50%;transform:translateY(-50%) scaleX(0.8945);">C</span><span class="t" id="cv" style="font-size:13px;color:#f23645;font-weight:400;top:19.7px;left:548.9px;transform-origin:0 50%;transform:translateY(-50%) scaleX(0.9468);">158.006</span><span class="t" id="chg" style="font-size:13px;color:#f23645;font-weight:400;top:19.7px;left:600.8px;transform-origin:0 50%;transform:translateY(-50%) scaleX(0.9371);">+0.088</span><span class="t" id="pct" style="font-size:13px;color:#f23645;font-weight:400;top:19.7px;left:643.5px;transform-origin:0 50%;transform:translateY(-50%) scaleX(0.9111);">(+0.06%)</span><span class="t" id="sma" style="font-size:13px;color:#131722;font-weight:400;top:86.2px;left:8.1px;transform-origin:0 50%;transform:translateY(-50%) scaleX(1.0052);">SMA 20/50/100/200</span><span class="t" id="s20" style="font-size:13px;color:#008000;font-weight:400;top:86.2px;left:131.8px;transform-origin:0 50%;transform:translateY(-50%) scaleX(0.9404);">156.432</span><span class="t" id="s50" style="font-size:13px;color:#ffff00;font-weight:400;top:86.2px;left:183.7px;transform-origin:0 50%;transform:translateY(-50%) scaleX(0.9468);">155.754</span><span class="t" id="s100" style="font-size:13px;color:#ff7f00;font-weight:400;top:86.2px;left:235.4px;transform-origin:0 50%;transform:translateY(-50%) scaleX(0.9574);">152.530</span><span class="t" id="s200" style="font-size:13px;color:#ff0000;font-weight:400;top:86.2px;left:287px;transform-origin:0 50%;transform:translateY(-50%) scaleX(0.9426);">148.991</span><span class="t" id="rsi" style="font-size:13px;color:#131722;font-weight:400;top:561.8px;left:8px;transform-origin:0 50%;transform:translateY(-50%) scaleX(0.7706);">RSI</span><span class="t" id="rsiv" style="font-size:13px;color:#7e57c2;font-weight:400;top:561.8px;left:33.5px;transform-origin:0 50%;transform:translateY(-50%) scaleX(0.9709);">63.23</span><span class="t" id="rsim" style="font-size:13px;color:#fdd835;font-weight:400;top:561.8px;left:71.6px;transform-origin:0 50%;transform:translateY(-50%) scaleX(0.9709);">55.99</span><span class="t" id="p140" style="font-size:12px;color:#131722;font-weight:400;top:498.5px;left:1757.7px;transform-origin:0 50%;transform:translateY(-50%) scaleX(0.9518);">140.000</span><span class="t" id="p142" style="font-size:12px;color:#131722;font-weight:400;top:450.17px;left:1757.7px;transform-origin:0 50%;transform:translateY(-50%) scaleX(0.9518);">142.000</span><span class="t" id="p144" style="font-size:12px;color:#131722;font-weight:400;top:401.84000000000003px;left:1757.7px;transform-origin:0 50%;transform:translateY(-50%) scaleX(0.9518);">144.000</span><span class="t" id="p146" style="font-size:12px;color:#131722;font-weight:400;top:353.51px;left:1757.7px;transform-origin:0 50%;transform:translateY(-50%) scaleX(0.9518);">146.000</span><span class="t" id="p148" style="font-size:12px;color:#131722;font-weight:400;top:305.18px;left:1757.7px;transform-origin:0 50%;transform:translateY(-50%) scaleX(0.9518);">148.000</span><span class="t" id="p150" style="font-size:12px;color:#131722;font-weight:400;top:256.85px;left:1757.7px;transform-origin:0 50%;transform:translateY(-50%) scaleX(0.9518);">150.000</span><span class="t" id="p152" style="font-size:12px;color:#131722;font-weight:400;top:208.51999999999998px;left:1757.7px;transform-origin:0 50%;transform:translateY(-50%) scaleX(0.9518);">152.000</span><span class="t" id="p154" style="font-size:12px;color:#131722;font-weight:400;top:160.19px;left:1757.7px;transform-origin:0 50%;transform:translateY(-50%) scaleX(0.9518);">154.000</span><span class="t" id="r60" style="font-size:12px;color:#131722;font-weight:400;top:599.7px;left:1757px;transform-origin:0 50%;transform:translateY(-50%) scaleX(0.9657);">60.00</span><span class="t" id="r40" style="font-size:12px;color:#131722;font-weight:400;top:650.8px;left:1757px;transform-origin:0 50%;transform:translateY(-50%) scaleX(0.9657);">40.00</span><span class="t" id="sym" style="font-size:12px;color:#fff;font-weight:400;top:63.7px;-webkit-text-stroke:0.35px #fff;left:1703.5px;transform-origin:0 50%;transform:translateY(-50%) scaleX(0.8576);">USDJPY</span><span class="t" id="lp1" style="font-size:12px;color:#fff;font-weight:400;top:63.7px;-webkit-text-stroke:0.35px #fff;left:1757.2px;transform-origin:0 50%;transform:translateY(-50%) scaleX(0.9726);">158.006</span><span class="t" id="lp2" style="font-size:12px;color:#fff;font-weight:400;top:78.1px;-webkit-text-stroke:0.35px #fff;left:1757.2px;transform-origin:0 50%;transform:translateY(-50%) scaleX(0.9268);">+11.41%</span><span class="t" id="lp3" style="font-size:12px;color:#fff;font-weight:400;top:92px;-webkit-text-stroke:0.35px #fff;opacity:.75;left:1757.4px;transform-origin:0 50%;transform:translateY(-50%) scaleX(0.9975);">15:13:03</span><span class="t" id="lb1" style="font-size:12px;color:#fff;font-weight:400;top:108.7px;-webkit-text-stroke:0.35px #fff;left:1757.2px;transform-origin:0 50%;transform:translateY(-50%) scaleX(0.9726);">157.765</span><span class="t" id="lb2" style="font-size:12px;color:#fff;font-weight:400;top:185.7px;-webkit-text-stroke:0.35px #fff;left:1757.2px;transform-origin:0 50%;transform:translateY(-50%) scaleX(0.9726);">152.933</span><span class="t" id="jpyt" style="font-size:12.3px;color:#131722;font-weight:400;top:20.5px;left:1755.6px;transform-origin:0 50%;transform:translateY(-50%) scaleX(0.8953);">JPY</span><span class="t" id="m0" style="font-size:12px;color:#131722;font-weight:400;top:706px;left:86.5px;transform:translate(-50%,-50%);">May</span><span class="t" id="m1" style="font-size:12px;color:#131722;font-weight:400;top:706px;left:275.5px;transform:translate(-50%,-50%);">Jun</span><span class="t" id="m2" style="font-size:12px;color:#131722;font-weight:400;top:706px;left:456.5px;transform:translate(-50%,-50%);">Jul</span><span class="t" id="m3" style="font-size:12px;color:#131722;font-weight:400;top:706px;left:653.5px;transform:translate(-50%,-50%);">Aug</span><span class="t" id="m4" style="font-size:12px;color:#131722;font-weight:400;top:706px;left:833.5px;transform:translate(-50%,-50%);">Sep</span><span class="t" id="m5" style="font-size:12px;color:#131722;font-weight:400;top:706px;left:1022.5px;transform:translate(-50%,-50%);">Oct</span><span class="t" id="m6" style="font-size:12px;color:#131722;font-weight:400;top:706px;left:1220.5px;transform:translate(-50%,-50%);">Nov</span><span class="t" id="m7" style="font-size:12px;color:#131722;font-weight:400;top:706px;left:1391.5px;transform:translate(-50%,-50%);">Dec</span><span class="t" id="m8" style="font-size:12px;color:#131722;font-weight:700;top:706px;left:1580.5px;transform:translate(-50%,-50%);">2026</span>
<div class="abs" id="clip80"><span class="t" id="r80" style="left:9px;top:2.8px;font-size:12px;color:#131722;transform-origin:0 50%;transform:translateY(-50%) scaleX(0.966)">80.00</span></div>
<!-- event circles -->
<svg class="abs" style="left:1618px;top:518px" width="46" height="28" viewBox="0 0 46 28">
 <defs><clipPath id="fc"><circle cx="0" cy="0" r="7.9"/></clipPath>
 <g id="fl"><circle cx="0" cy="0" r="10.15" fill="#fff" stroke="#f23645" stroke-width="1.5"/>
 <g clip-path="url(#fc)"><rect x="-9" y="-9" width="18" height="18" fill="#fff"/><rect x="-9" y="-8.4" width="18" height="3.1" fill="#ef5350"/><rect x="-9" y="-1.9" width="18" height="3.7" fill="#ef5350"/><rect x="-9" y="4.3" width="18" height="4.2" fill="#ef5350"/><rect x="-9" y="-9" width="11.5" height="10.8" fill="#1e88e5"/>
 <g fill="#fff" fill-opacity=".8"><rect x="-6" y="-6.2" width="1.6" height=".9"/><rect x="-3.3" y="-6.2" width="1.6" height=".9"/><rect x="-.6" y="-6.2" width="1.6" height=".9"/><rect x="-6.8" y="-3.6" width="1.6" height=".9"/><rect x="-4.1" y="-3.6" width="1.6" height=".9"/><rect x="-1.4" y="-3.6" width="1.6" height=".9"/><rect x="-6.8" y="-1" width="1.6" height=".9"/><rect x="-4.1" y="-1" width="1.6" height=".9"/><rect x="-1.4" y="-1" width="1.6" height=".9"/></g></g></g></defs>
 <circle cx="14.3" cy="14.4" r="9.7" fill="#fff" stroke="#9c27b0" stroke-width="1.4"/>
 <use href="#fl" transform="translate(30.9 13.9)"/>
 <use href="#fl" transform="translate(21.9 13.9)"/>
</svg>
<!-- TradingView logo -->
<svg class="abs" style="left:7px;top:658px" width="38" height="25" viewBox="7 658 38 25">
 <g stroke="#fff" stroke-width="4.5" stroke-linejoin="round" fill="#fff"><path d="M11.1 663.4h11.8v13.9h-5.8v-8.4h-6z"/><circle cx="27.6" cy="665.9" r="2.6"/><path d="M33.3 663.4h7.3l-5.8 13.9h-6.7z"/></g>
 <g fill="#0c0c0c"><path d="M11.1 663.4h11.8v13.9h-5.8v-8.4h-6z"/><circle cx="27.6" cy="665.9" r="2.6"/><path d="M33.3 663.4h7.3l-5.8 13.9h-6.7z"/></g>
</svg>
<span class="t" id="tv" style="left:48.2px;top:670.5px;font-size:19.5px;font-weight:700;letter-spacing:0.6px;color:#0c0c0c;text-shadow:-2px 0 #fff,2px 0 #fff,0 -2px #fff,0 2px #fff,-1.5px -1.5px #fff,1.5px 1.5px #fff,-1.5px 1.5px #fff,1.5px -1.5px #fff,-2px 1px #fff,2px 1px #fff,-2px -1px #fff,2px -1px #fff,1px 2px #fff,-1px 2px #fff,1px -2px #fff,-1px -2px #fff">TradingView</span>
<!-- settings icon -->
<svg class="abs" style="left:1772px;top:697px" width="19" height="19" viewBox="0 0 19 19"><path d="M5.8 3.7h7.5l3.3 5.7-3.3 5.7H5.8L2.4 9.4z" fill="none" stroke="#131722" stroke-width="1.15" stroke-linejoin="round"/><circle cx="9.5" cy="9.4" r="2.1" fill="none" stroke="#131722" stroke-width="1.05"/></svg>
</body></html>
